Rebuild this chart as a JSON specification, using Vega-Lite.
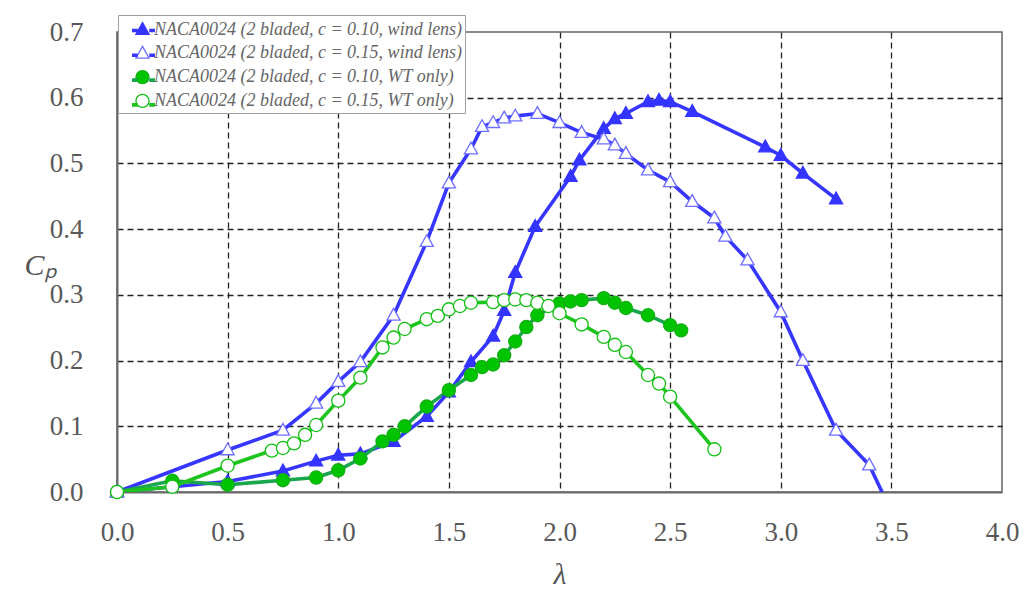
{
  "$schema": "https://vega.github.io/schema/vega-lite/v6.json",
  "width": 885,
  "height": 460,
  "autosize": "none",
  "padding": {"left": 117, "top": 32, "right": 22, "bottom": 103},
  "background": "#ffffff",
  "config": {
    "font": "Liberation Serif",
    "view": {"stroke": "#666666", "strokeWidth": 1.5},
    "axis": {
      "labelFont": "Liberation Serif",
      "labelFontSize": 27,
      "labelColor": "#595959",
      "labelFlush": false,
      "labelOverlap": false,
      "ticks": false,
      "domainColor": "#6a6a6a",
      "domainWidth": 2,
      "grid": true,
      "gridColor": "#222222",
      "gridDash": [6, 4],
      "gridWidth": 1.3,
      "titleFont": "Liberation Serif",
      "titleFontStyle": "italic",
      "titleFontWeight": "normal",
      "titleFontSize": 30,
      "titleColor": "#555555"
    }
  },
  "data": {
    "values": [
      {"lambda": 0.0, "cp": 0.0, "series": "NACA0024 (2 bladed, c = 0.10, wind lens)"},
      {"lambda": 0.5, "cp": 0.016, "series": "NACA0024 (2 bladed, c = 0.10, wind lens)"},
      {"lambda": 0.75, "cp": 0.032, "series": "NACA0024 (2 bladed, c = 0.10, wind lens)"},
      {"lambda": 0.9, "cp": 0.047, "series": "NACA0024 (2 bladed, c = 0.10, wind lens)"},
      {"lambda": 1.0, "cp": 0.056, "series": "NACA0024 (2 bladed, c = 0.10, wind lens)"},
      {"lambda": 1.1, "cp": 0.058, "series": "NACA0024 (2 bladed, c = 0.10, wind lens)"},
      {"lambda": 1.25, "cp": 0.077, "series": "NACA0024 (2 bladed, c = 0.10, wind lens)"},
      {"lambda": 1.4, "cp": 0.115, "series": "NACA0024 (2 bladed, c = 0.10, wind lens)"},
      {"lambda": 1.5, "cp": 0.152, "series": "NACA0024 (2 bladed, c = 0.10, wind lens)"},
      {"lambda": 1.6, "cp": 0.198, "series": "NACA0024 (2 bladed, c = 0.10, wind lens)"},
      {"lambda": 1.7, "cp": 0.237, "series": "NACA0024 (2 bladed, c = 0.10, wind lens)"},
      {"lambda": 1.75, "cp": 0.276, "series": "NACA0024 (2 bladed, c = 0.10, wind lens)"},
      {"lambda": 1.8, "cp": 0.334, "series": "NACA0024 (2 bladed, c = 0.10, wind lens)"},
      {"lambda": 1.89, "cp": 0.404, "series": "NACA0024 (2 bladed, c = 0.10, wind lens)"},
      {"lambda": 2.05, "cp": 0.48, "series": "NACA0024 (2 bladed, c = 0.10, wind lens)"},
      {"lambda": 2.09, "cp": 0.505, "series": "NACA0024 (2 bladed, c = 0.10, wind lens)"},
      {"lambda": 2.2, "cp": 0.553, "series": "NACA0024 (2 bladed, c = 0.10, wind lens)"},
      {"lambda": 2.25, "cp": 0.568, "series": "NACA0024 (2 bladed, c = 0.10, wind lens)"},
      {"lambda": 2.3, "cp": 0.576, "series": "NACA0024 (2 bladed, c = 0.10, wind lens)"},
      {"lambda": 2.4, "cp": 0.594, "series": "NACA0024 (2 bladed, c = 0.10, wind lens)"},
      {"lambda": 2.45, "cp": 0.596, "series": "NACA0024 (2 bladed, c = 0.10, wind lens)"},
      {"lambda": 2.5, "cp": 0.594, "series": "NACA0024 (2 bladed, c = 0.10, wind lens)"},
      {"lambda": 2.6, "cp": 0.579, "series": "NACA0024 (2 bladed, c = 0.10, wind lens)"},
      {"lambda": 2.93, "cp": 0.525, "series": "NACA0024 (2 bladed, c = 0.10, wind lens)"},
      {"lambda": 3.0, "cp": 0.512, "series": "NACA0024 (2 bladed, c = 0.10, wind lens)"},
      {"lambda": 3.1, "cp": 0.485, "series": "NACA0024 (2 bladed, c = 0.10, wind lens)"},
      {"lambda": 3.25, "cp": 0.446, "series": "NACA0024 (2 bladed, c = 0.10, wind lens)"},

      {"lambda": 0.0, "cp": 0.0, "series": "NACA0024 (2 bladed, c = 0.15, wind lens)"},
      {"lambda": 0.5, "cp": 0.064, "series": "NACA0024 (2 bladed, c = 0.15, wind lens)"},
      {"lambda": 0.75, "cp": 0.094, "series": "NACA0024 (2 bladed, c = 0.15, wind lens)"},
      {"lambda": 0.9, "cp": 0.135, "series": "NACA0024 (2 bladed, c = 0.15, wind lens)"},
      {"lambda": 1.0, "cp": 0.168, "series": "NACA0024 (2 bladed, c = 0.15, wind lens)"},
      {"lambda": 1.1, "cp": 0.198, "series": "NACA0024 (2 bladed, c = 0.15, wind lens)"},
      {"lambda": 1.25, "cp": 0.269, "series": "NACA0024 (2 bladed, c = 0.15, wind lens)"},
      {"lambda": 1.4, "cp": 0.381, "series": "NACA0024 (2 bladed, c = 0.15, wind lens)"},
      {"lambda": 1.5, "cp": 0.47, "series": "NACA0024 (2 bladed, c = 0.15, wind lens)"},
      {"lambda": 1.6, "cp": 0.522, "series": "NACA0024 (2 bladed, c = 0.15, wind lens)"},
      {"lambda": 1.65, "cp": 0.556, "series": "NACA0024 (2 bladed, c = 0.15, wind lens)"},
      {"lambda": 1.7, "cp": 0.562, "series": "NACA0024 (2 bladed, c = 0.15, wind lens)"},
      {"lambda": 1.75, "cp": 0.569, "series": "NACA0024 (2 bladed, c = 0.15, wind lens)"},
      {"lambda": 1.8, "cp": 0.572, "series": "NACA0024 (2 bladed, c = 0.15, wind lens)"},
      {"lambda": 1.9, "cp": 0.576, "series": "NACA0024 (2 bladed, c = 0.15, wind lens)"},
      {"lambda": 2.0, "cp": 0.562, "series": "NACA0024 (2 bladed, c = 0.15, wind lens)"},
      {"lambda": 2.1, "cp": 0.547, "series": "NACA0024 (2 bladed, c = 0.15, wind lens)"},
      {"lambda": 2.2, "cp": 0.537, "series": "NACA0024 (2 bladed, c = 0.15, wind lens)"},
      {"lambda": 2.25, "cp": 0.528, "series": "NACA0024 (2 bladed, c = 0.15, wind lens)"},
      {"lambda": 2.3, "cp": 0.515, "series": "NACA0024 (2 bladed, c = 0.15, wind lens)"},
      {"lambda": 2.4, "cp": 0.49, "series": "NACA0024 (2 bladed, c = 0.15, wind lens)"},
      {"lambda": 2.5, "cp": 0.472, "series": "NACA0024 (2 bladed, c = 0.15, wind lens)"},
      {"lambda": 2.6, "cp": 0.442, "series": "NACA0024 (2 bladed, c = 0.15, wind lens)"},
      {"lambda": 2.7, "cp": 0.417, "series": "NACA0024 (2 bladed, c = 0.15, wind lens)"},
      {"lambda": 2.75, "cp": 0.389, "series": "NACA0024 (2 bladed, c = 0.15, wind lens)"},
      {"lambda": 2.85, "cp": 0.353, "series": "NACA0024 (2 bladed, c = 0.15, wind lens)"},
      {"lambda": 3.0, "cp": 0.274, "series": "NACA0024 (2 bladed, c = 0.15, wind lens)"},
      {"lambda": 3.1, "cp": 0.2, "series": "NACA0024 (2 bladed, c = 0.15, wind lens)"},
      {"lambda": 3.25, "cp": 0.094, "series": "NACA0024 (2 bladed, c = 0.15, wind lens)"},
      {"lambda": 3.4, "cp": 0.041, "series": "NACA0024 (2 bladed, c = 0.15, wind lens)"},
      {"lambda": 3.5, "cp": -0.03, "series": "NACA0024 (2 bladed, c = 0.15, wind lens)"},

      {"lambda": 0.0, "cp": 0.0, "series": "NACA0024 (2 bladed, c = 0.10, WT only)"},
      {"lambda": 0.25, "cp": 0.017, "series": "NACA0024 (2 bladed, c = 0.10, WT only)"},
      {"lambda": 0.5, "cp": 0.011, "series": "NACA0024 (2 bladed, c = 0.10, WT only)"},
      {"lambda": 0.75, "cp": 0.018, "series": "NACA0024 (2 bladed, c = 0.10, WT only)"},
      {"lambda": 0.9, "cp": 0.022, "series": "NACA0024 (2 bladed, c = 0.10, WT only)"},
      {"lambda": 1.0, "cp": 0.033, "series": "NACA0024 (2 bladed, c = 0.10, WT only)"},
      {"lambda": 1.1, "cp": 0.051, "series": "NACA0024 (2 bladed, c = 0.10, WT only)"},
      {"lambda": 1.2, "cp": 0.077, "series": "NACA0024 (2 bladed, c = 0.10, WT only)"},
      {"lambda": 1.25, "cp": 0.087, "series": "NACA0024 (2 bladed, c = 0.10, WT only)"},
      {"lambda": 1.3, "cp": 0.1, "series": "NACA0024 (2 bladed, c = 0.10, WT only)"},
      {"lambda": 1.4, "cp": 0.13, "series": "NACA0024 (2 bladed, c = 0.10, WT only)"},
      {"lambda": 1.5, "cp": 0.155, "series": "NACA0024 (2 bladed, c = 0.10, WT only)"},
      {"lambda": 1.6, "cp": 0.178, "series": "NACA0024 (2 bladed, c = 0.10, WT only)"},
      {"lambda": 1.65, "cp": 0.19, "series": "NACA0024 (2 bladed, c = 0.10, WT only)"},
      {"lambda": 1.7, "cp": 0.194, "series": "NACA0024 (2 bladed, c = 0.10, WT only)"},
      {"lambda": 1.75, "cp": 0.208, "series": "NACA0024 (2 bladed, c = 0.10, WT only)"},
      {"lambda": 1.8, "cp": 0.229, "series": "NACA0024 (2 bladed, c = 0.10, WT only)"},
      {"lambda": 1.85, "cp": 0.251, "series": "NACA0024 (2 bladed, c = 0.10, WT only)"},
      {"lambda": 1.9, "cp": 0.269, "series": "NACA0024 (2 bladed, c = 0.10, WT only)"},
      {"lambda": 2.0, "cp": 0.287, "series": "NACA0024 (2 bladed, c = 0.10, WT only)"},
      {"lambda": 2.05, "cp": 0.29, "series": "NACA0024 (2 bladed, c = 0.10, WT only)"},
      {"lambda": 2.1, "cp": 0.292, "series": "NACA0024 (2 bladed, c = 0.10, WT only)"},
      {"lambda": 2.2, "cp": 0.295, "series": "NACA0024 (2 bladed, c = 0.10, WT only)"},
      {"lambda": 2.25, "cp": 0.288, "series": "NACA0024 (2 bladed, c = 0.10, WT only)"},
      {"lambda": 2.3, "cp": 0.28, "series": "NACA0024 (2 bladed, c = 0.10, WT only)"},
      {"lambda": 2.4, "cp": 0.269, "series": "NACA0024 (2 bladed, c = 0.10, WT only)"},
      {"lambda": 2.5, "cp": 0.254, "series": "NACA0024 (2 bladed, c = 0.10, WT only)"},
      {"lambda": 2.55, "cp": 0.246, "series": "NACA0024 (2 bladed, c = 0.10, WT only)"},

      {"lambda": 0.0, "cp": 0.0, "series": "NACA0024 (2 bladed, c = 0.15, WT only)"},
      {"lambda": 0.25, "cp": 0.008, "series": "NACA0024 (2 bladed, c = 0.15, WT only)"},
      {"lambda": 0.5, "cp": 0.04, "series": "NACA0024 (2 bladed, c = 0.15, WT only)"},
      {"lambda": 0.7, "cp": 0.063, "series": "NACA0024 (2 bladed, c = 0.15, WT only)"},
      {"lambda": 0.75, "cp": 0.067, "series": "NACA0024 (2 bladed, c = 0.15, WT only)"},
      {"lambda": 0.8, "cp": 0.074, "series": "NACA0024 (2 bladed, c = 0.15, WT only)"},
      {"lambda": 0.85, "cp": 0.087, "series": "NACA0024 (2 bladed, c = 0.15, WT only)"},
      {"lambda": 0.9, "cp": 0.102, "series": "NACA0024 (2 bladed, c = 0.15, WT only)"},
      {"lambda": 1.0, "cp": 0.139, "series": "NACA0024 (2 bladed, c = 0.15, WT only)"},
      {"lambda": 1.1, "cp": 0.174, "series": "NACA0024 (2 bladed, c = 0.15, WT only)"},
      {"lambda": 1.2, "cp": 0.22, "series": "NACA0024 (2 bladed, c = 0.15, WT only)"},
      {"lambda": 1.25, "cp": 0.235, "series": "NACA0024 (2 bladed, c = 0.15, WT only)"},
      {"lambda": 1.3, "cp": 0.248, "series": "NACA0024 (2 bladed, c = 0.15, WT only)"},
      {"lambda": 1.4, "cp": 0.263, "series": "NACA0024 (2 bladed, c = 0.15, WT only)"},
      {"lambda": 1.45, "cp": 0.268, "series": "NACA0024 (2 bladed, c = 0.15, WT only)"},
      {"lambda": 1.5, "cp": 0.278, "series": "NACA0024 (2 bladed, c = 0.15, WT only)"},
      {"lambda": 1.55, "cp": 0.283, "series": "NACA0024 (2 bladed, c = 0.15, WT only)"},
      {"lambda": 1.6, "cp": 0.288, "series": "NACA0024 (2 bladed, c = 0.15, WT only)"},
      {"lambda": 1.7, "cp": 0.289, "series": "NACA0024 (2 bladed, c = 0.15, WT only)"},
      {"lambda": 1.75, "cp": 0.292, "series": "NACA0024 (2 bladed, c = 0.15, WT only)"},
      {"lambda": 1.8, "cp": 0.293, "series": "NACA0024 (2 bladed, c = 0.15, WT only)"},
      {"lambda": 1.85, "cp": 0.292, "series": "NACA0024 (2 bladed, c = 0.15, WT only)"},
      {"lambda": 1.9, "cp": 0.288, "series": "NACA0024 (2 bladed, c = 0.15, WT only)"},
      {"lambda": 1.95, "cp": 0.283, "series": "NACA0024 (2 bladed, c = 0.15, WT only)"},
      {"lambda": 2.0, "cp": 0.272, "series": "NACA0024 (2 bladed, c = 0.15, WT only)"},
      {"lambda": 2.1, "cp": 0.255, "series": "NACA0024 (2 bladed, c = 0.15, WT only)"},
      {"lambda": 2.2, "cp": 0.236, "series": "NACA0024 (2 bladed, c = 0.15, WT only)"},
      {"lambda": 2.25, "cp": 0.224, "series": "NACA0024 (2 bladed, c = 0.15, WT only)"},
      {"lambda": 2.3, "cp": 0.213, "series": "NACA0024 (2 bladed, c = 0.15, WT only)"},
      {"lambda": 2.4, "cp": 0.178, "series": "NACA0024 (2 bladed, c = 0.15, WT only)"},
      {"lambda": 2.45, "cp": 0.165, "series": "NACA0024 (2 bladed, c = 0.15, WT only)"},
      {"lambda": 2.5, "cp": 0.145, "series": "NACA0024 (2 bladed, c = 0.15, WT only)"},
      {"lambda": 2.7, "cp": 0.065, "series": "NACA0024 (2 bladed, c = 0.15, WT only)"}
    ]
  },
  "encoding": {
    "x": {
      "field": "lambda",
      "type": "quantitative",
      "scale": {"domain": [0, 4], "nice": false, "zero": false},
      "axis": {
        "values": [0, 0.5, 1, 1.5, 2, 2.5, 3, 3.5, 4],
        "format": ".1f",
        "labelPadding": 27,
        "title": "λ",
        "titlePadding": 14,
        "gridOpacity": {"condition": {"test": "datum.value == 0 || datum.value == 4", "value": 0}, "value": 1}
      }
    },
    "y": {
      "field": "cp",
      "type": "quantitative",
      "scale": {"domain": [0, 0.7], "nice": false, "zero": false},
      "axis": {
        "values": [0, 0.1, 0.2, 0.3, 0.4, 0.5, 0.6, 0.7],
        "format": ".1f",
        "labelPadding": 34,
        "title": "Cₚ",
        "titleAngle": 0,
        "titleAlign": "center",
        "titleBaseline": "middle",
        "titleX": -77,
        "titleY": 233,
        "gridOpacity": {"condition": {"test": "datum.value == 0 || datum.value == 0.7", "value": 0}, "value": 1}
      }
    }
  },
  "layer": [
    {
      "mark": {"type": "line", "clip": true, "strokeWidth": 3.6},
      "encoding": {
        "color": {
          "field": "series",
          "type": "nominal",
          "sort": null,
          "scale": {"range": ["#3636ff", "#3636ff", "#1aa64c", "#1ec41e"]},
          "legend": {
            "orient": "none",
            "legendX": 1,
            "legendY": -17,
            "title": null,
            "symbolType": "M-1,0H-0.5M0.5,0H1",
            "symbolSize": 529,
            "symbolStrokeWidth": 3.6,
            "symbolOffset": 10,
            "labelOffset": -1,
            "labelExpr": "''",
            "labelFont": "Liberation Serif",
            "labelFontStyle": "italic",
            "labelFontSize": 18,
            "padding": 2,
            "rowPadding": 1.8,
            "zindex": 2
          }
        }
      }
    },
    {
      "transform": [{"filter": "datum.cp >= 0"}],
      "mark": {"type": "point", "clip": false, "size": 529, "strokeWidth": 1.3, "opacity": 1},
      "encoding": {
        "shape": {
          "field": "series",
          "type": "nominal",
          "scale": {
            "domain": ["NACA0024 (2 bladed, c = 0.10, wind lens)", "NACA0024 (2 bladed, c = 0.15, wind lens)", "NACA0024 (2 bladed, c = 0.10, WT only)", "NACA0024 (2 bladed, c = 0.15, WT only)"],
            "range": ["M0,-0.6L0.57,0.42L-0.57,0.42Z", "M0,-0.6L0.57,0.42L-0.57,0.42Z", "M-0.57,0A0.57,0.57,0,1,0,0.57,0A0.57,0.57,0,1,0,-0.57,0Z", "M-0.57,0A0.57,0.57,0,1,0,0.57,0A0.57,0.57,0,1,0,-0.57,0Z"]
          },
          "legend": {
            "orient": "none",
            "legendX": 1,
            "legendY": -17,
            "title": null,
            "symbolSize": 529,
            "symbolStrokeWidth": 1.3,
            "symbolOffset": 10,
            "labelOffset": -1,
            "labelFont": "Liberation Serif",
            "labelFontStyle": "italic",
            "labelFontSize": 18,
            "labelColor": "#666666",
            "labelLimit": 500,
            "fillColor": "#ffffff",
            "strokeColor": "#a0a0a0",
            "padding": 2,
            "rowPadding": 1.8,
            "zindex": 1
          }
        },
        "fill": {
          "field": "series",
          "type": "nominal",
          "scale": {
            "domain": ["NACA0024 (2 bladed, c = 0.10, wind lens)", "NACA0024 (2 bladed, c = 0.15, wind lens)", "NACA0024 (2 bladed, c = 0.10, WT only)", "NACA0024 (2 bladed, c = 0.15, WT only)"],
            "range": ["#3434ff", "#ffffff", "#00c400", "#ffffff"]
          }
        },
        "stroke": {
          "field": "series",
          "type": "nominal",
          "scale": {
            "domain": ["NACA0024 (2 bladed, c = 0.10, wind lens)", "NACA0024 (2 bladed, c = 0.15, wind lens)", "NACA0024 (2 bladed, c = 0.10, WT only)", "NACA0024 (2 bladed, c = 0.15, WT only)"],
            "range": ["#3434ff", "#6e6eff", "#14b014", "#14c014"]
          }
        }
      }
    }
  ]
}
